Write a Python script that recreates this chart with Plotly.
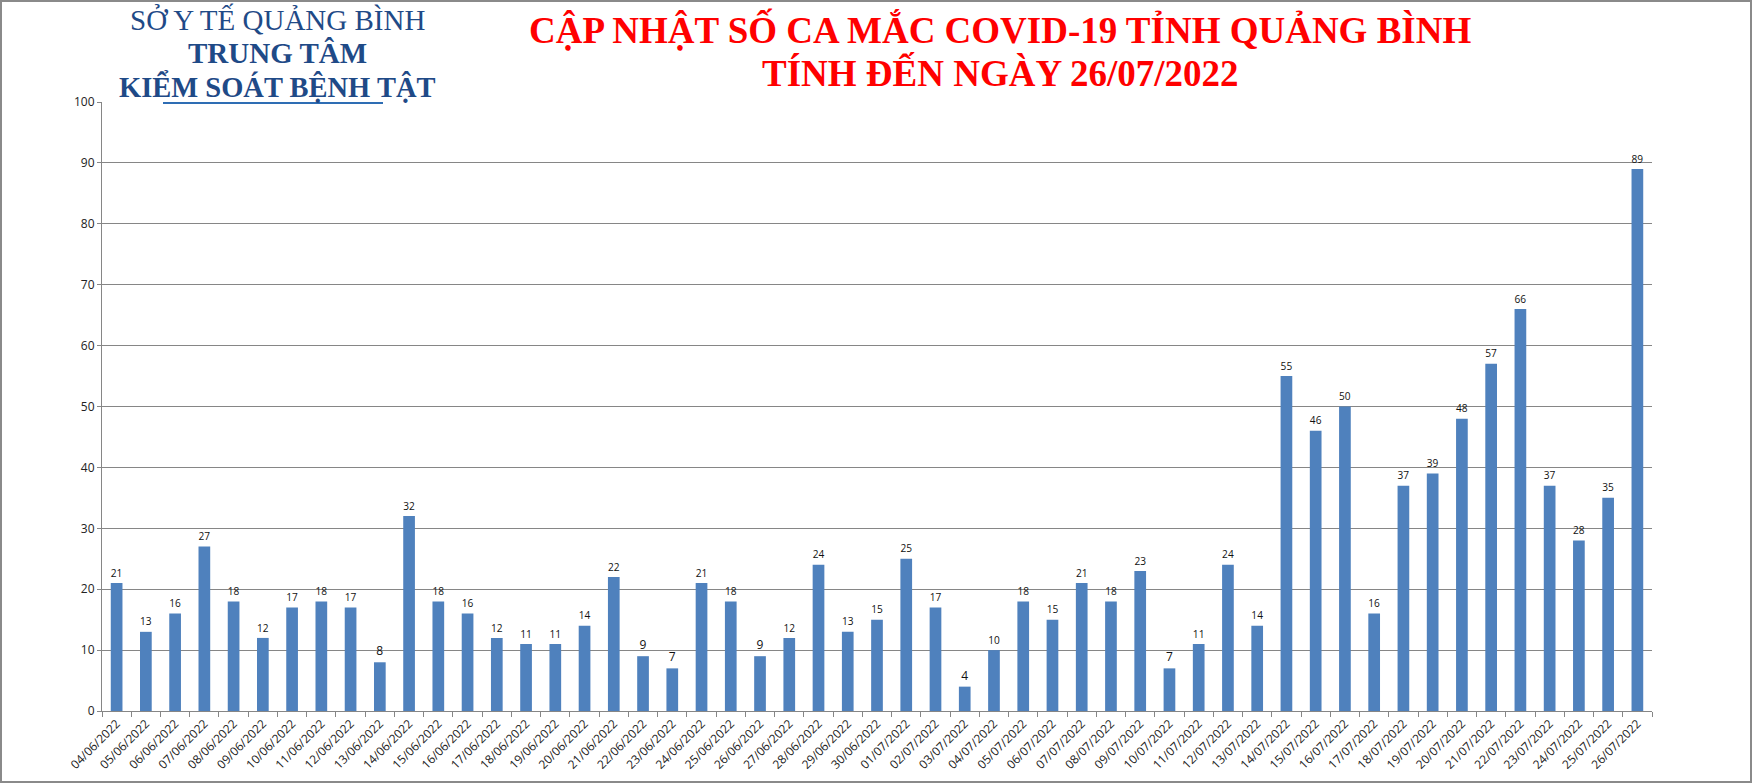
import plotly.graph_objects as go

dates = [
    "04/06/2022", "05/06/2022", "06/06/2022", "07/06/2022", "08/06/2022", "09/06/2022",
    "10/06/2022", "11/06/2022", "12/06/2022", "13/06/2022", "14/06/2022", "15/06/2022",
    "16/06/2022", "17/06/2022", "18/06/2022", "19/06/2022", "20/06/2022", "21/06/2022",
    "22/06/2022", "23/06/2022", "24/06/2022", "25/06/2022", "26/06/2022", "27/06/2022",
    "28/06/2022", "29/06/2022", "30/06/2022", "01/07/2022", "02/07/2022", "03/07/2022",
    "04/07/2022", "05/07/2022", "06/07/2022", "07/07/2022", "08/07/2022", "09/07/2022",
    "10/07/2022", "11/07/2022", "12/07/2022", "13/07/2022", "14/07/2022", "15/07/2022",
    "16/07/2022", "17/07/2022", "18/07/2022", "19/07/2022", "20/07/2022", "21/07/2022",
    "22/07/2022", "23/07/2022", "24/07/2022", "25/07/2022", "26/07/2022",
]
cases = [
    21, 13, 16, 27, 18, 12, 17, 18, 17, 8, 32, 18, 16, 12, 11, 11, 14, 22, 9, 7,
    21, 18, 9, 12, 24, 13, 15,
    25, 17, 4, 10, 18, 15, 21, 18, 23, 7, 11, 24, 14, 55, 46, 50, 16, 37, 39, 48,
    57, 66, 37, 28, 35, 89,
]

W, H = 1753, 784
L, R, T, B = 102, 101, 102, 73
PW, PH = W - L - R, H - T - B


def px(x):
    return (x - L) / PW


def py(y):
    return (H - B - y) / PH


fig = go.Figure(
    go.Bar(
        x=dates,
        y=cases,
        marker=dict(color="#4F81BD", line=dict(width=0)),
        text=[str(v) for v in cases],
        textposition="outside",
        textfont=dict(family="Open Sans, Liberation Sans, sans-serif", size=12, color="#111"),
        cliponaxis=False,
    )
)

fig.update_layout(
    width=W,
    height=H,
    margin=dict(l=L, r=R, t=T, b=B, pad=0),
    paper_bgcolor="white",
    plot_bgcolor="white",
    bargap=0.6,
    showlegend=False,
    font=dict(family="Open Sans, Liberation Sans, sans-serif", size=12, color="#222"),
)

fig.update_xaxes(
    type="category",
    tickangle=-45,
    tickfont=dict(size=12, color="#222"),
    showline=True,
    linecolor="#868686",
    linewidth=1,
    ticks="outside",
    tickson="boundaries",
    ticklen=5,
    tickcolor="#868686",
    showgrid=False,
)
fig.update_yaxes(
    range=[0, 100],
    dtick=10,
    showgrid=True,
    gridcolor="#868686",
    gridwidth=1,
    showline=True,
    linecolor="#868686",
    linewidth=1,
    ticks="outside",
    ticklen=4,
    tickcolor="#868686",
    tickfont=dict(size=12, color="#222"),
    zeroline=False,
)

blue = "#1F4A87"
red = "#FF0000"
ann = [
    dict(text="SỞ Y TẾ QUẢNG BÌNH", x=px(277), y=py(20), size=29, color=blue),
    dict(text="<b>TRUNG TÂM</b>", x=px(277), y=py(53), size=29, color=blue),
    dict(text="<b>KIỂM SOÁT BỆNH TẬT</b>", x=px(277), y=py(87), size=28.5, color=blue),
    dict(text="<b>CẬP NHẬT SỐ CA MẮC COVID-19 TỈNH QUẢNG BÌNH</b>", x=px(1000), y=py(29), size=37, color=red),
    dict(text="<b>TÍNH ĐẾN NGÀY 26/07/2022</b>", x=px(1000), y=py(73), size=37, color=red),
]
for a in ann:
    fig.add_annotation(
        text=a["text"], x=a["x"], y=a["y"], xref="paper", yref="paper",
        xanchor="center", yanchor="middle", showarrow=False,
        font=dict(family="Liberation Serif, Times New Roman, serif", size=a["size"], color=a["color"]),
    )

# decorative underline under header
fig.add_shape(type="line", xref="paper", yref="paper",
              x0=px(163), x1=px(383), y0=py(103), y1=py(103),
              line=dict(color="#2E6DB4", width=2))

# chart area border
fig.add_shape(type="rect", xref="paper", yref="paper",
              x0=px(1), x1=px(W - 2), y0=py(H - 2), y1=py(1),
              line=dict(color="#8a8a8a", width=2), fillcolor="rgba(0,0,0,0)")

fig.write_html(
    "out.html",
    config={"displayModeBar": False},
    post_script="document.body.style.margin='0';document.body.style.overflow='hidden';",
)
